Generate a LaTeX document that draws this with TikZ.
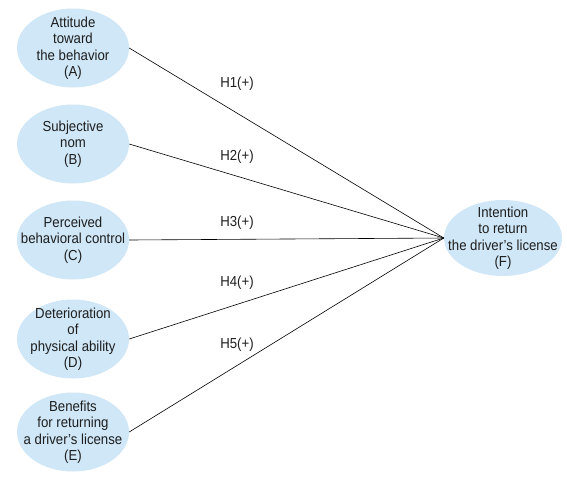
\documentclass[tikz,border=0pt]{standalone}
\usepackage{fontspec}
\setmainfont[FakeStretch=0.91]{Liberation Sans}
\usetikzlibrary{shapes.geometric}
\definecolor{bubble}{RGB}{207,231,246}
\definecolor{ink}{RGB}{30,30,30}
\begin{document}
\begin{tikzpicture}
			[x=1pt, y=-1pt,
			construct/.style = {shape=ellipse, fill=bubble, align=center, text=ink,
				inner xsep=-22pt, inner ysep=-10pt,
				minimum width=112pt, minimum height=79pt, font=\fontsize{14.5}{16.5}\selectfont},
			hyp/.style = {text=ink, font=\fontsize{14.5}{16}\selectfont},
			path/.style = {draw, line width=0.6pt}]
			\useasboundingbox (0,0) rectangle (567,480);
			% left-hand constructs
			\node[construct] (A) at (73,48) {Attitude\\toward\\the behavior\\(A)};
			\node[construct] (B) at (73,144) {Subjective\\nom\\(B)};
			\node[construct] (C) at (73,240) {Perceived\\behavioral control\\(C)};
			\node[construct] (D) at (73,339) {Deterioration\\of\\physical ability\\(D)};
			\node[construct] (E) at (73,432) {Benefits\\for returning\\a driver's license\\(E)};
			% outcome
			\node[construct, minimum width=118pt, minimum height=76pt] (F) at (503,238)
				{Intention\\to return\\the driver's license\\(F)};
			% hypotheses
			\draw[path] (A.east) -- (F.west);
			\draw[path] (B.east) -- (F.west);
			\draw[path] (C.east) -- (F.west);
			\draw[path] (D.east) -- (F.west);
			\draw[path] (E.east) -- (F.west);
			\node[hyp] (h1) at (237,84) {H1(+)};
			\node[hyp] (h2) at (237,157) {H2(+)};
			\node[hyp] (h3) at (237,223) {H3(+)};
			\node[hyp] (h4) at (237,283) {H4(+)};
			\node[hyp] (h5) at (237,345) {H5(+)};
		\end{tikzpicture}
\end{document}
